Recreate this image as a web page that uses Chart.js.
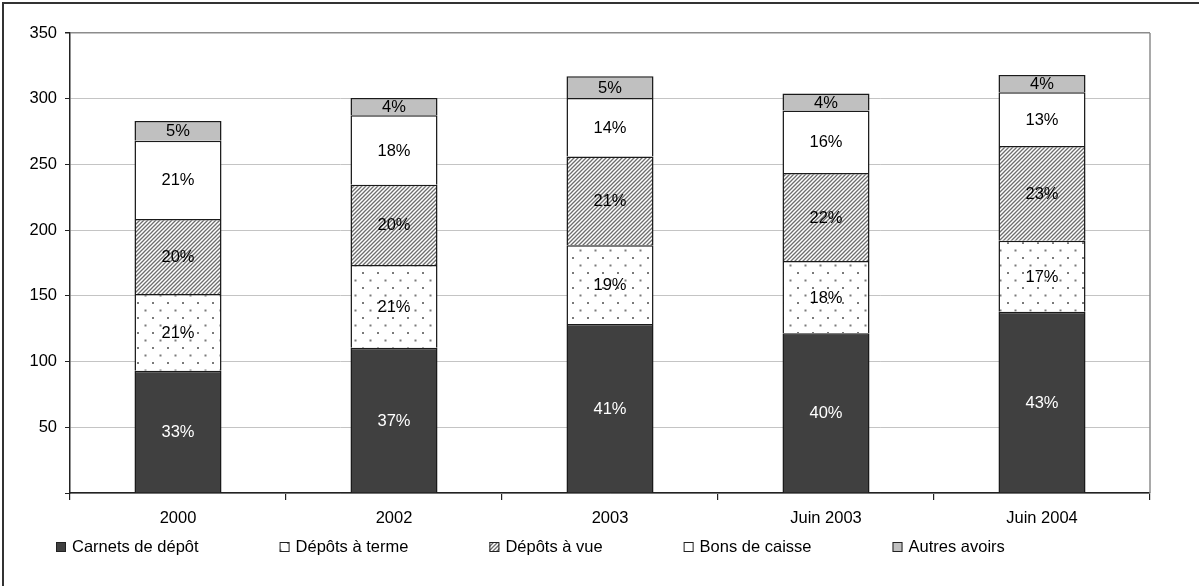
<!DOCTYPE html>
<html>
<head>
<meta charset="utf-8">
<style>
  html, body { margin: 0; padding: 0; background: #fff; }
  #wrap { width: 1199px; height: 586px; position: relative; }
</style>
<script src="https://cdn.jsdelivr.net/npm/chart.js@4.4.0/dist/chart.umd.min.js"></script>
</head>
<body>
<div id="wrap"><canvas id="c" width="1199" height="586"></canvas></div>
<script>
// Encours par type de placement (stacked)
const categories   = ['2000', '2002', '2003', 'Juin 2003', 'Juin 2004'];
const carnetsDepot = [93, 110.5, 128.5, 121.5, 138];
const depotsTerme  = [58.5, 63, 60, 55, 54];
const depotsVue    = [57, 61, 67.5, 67, 72];
const bonsCaisse   = [59.5, 53, 44.5, 47.5, 41];
const autresAvoirs = [15, 13, 16.5, 13, 13];
const yTickValues  = [0, 50, 100, 150, 200, 250, 300, 350];

const FONT = '"Liberation Sans", Arial, sans-serif';
const FONT_SIZE = 16.5;

// Fill patterns
function dotPattern() {
  const c = document.createElement('canvas');
  c.width = 15; c.height = 15;
  const g = c.getContext('2d');
  g.fillStyle = '#fff'; g.fillRect(0, 0, 15, 15);
  g.fillStyle = '#7a7a7a';
  g.fillRect(2, 2, 2, 2);
  g.fillRect(9.5, 9.5, 2, 2);
  return g.createPattern(c, 'repeat');
}
function hatchPattern() {
  const s = 4;
  const c = document.createElement('canvas');
  c.width = s; c.height = s;
  const g = c.getContext('2d');
  g.fillStyle = '#fff'; g.fillRect(0, 0, s, s);
  g.strokeStyle = '#6e6e6e';
  g.lineWidth = 1.3;
  g.beginPath();
  g.moveTo(-1, s + 1); g.lineTo(s + 1, -1);
  g.moveTo(-1, 1); g.lineTo(1, -1);
  g.moveTo(s - 1, s + 1); g.lineTo(s + 1, s - 1);
  g.stroke();
  return g.createPattern(c, 'repeat');
}

const series = [
  { label: 'Carnets de dépôt', data: carnetsDepot, fill: '#404040', text: '#fff' },
  { label: 'Dépôts à terme',   data: depotsTerme,  fill: dotPattern(), text: '#000' },
  { label: 'Dépôts à vue',     data: depotsVue,    fill: hatchPattern(), text: '#000' },
  { label: 'Bons de caisse',   data: bonsCaisse,   fill: '#ffffff', text: '#000' },
  { label: 'Autres avoirs',    data: autresAvoirs, fill: '#c0c0c0', text: '#000' }
];

// Percent labels inside each segment, share of the column total
const segmentLabels = {
  id: 'segmentLabels',
  afterDatasetsDraw(chart) {
    const ctx = chart.ctx;
    const totals = categories.map((_, i) => series.reduce((s, d) => s + d.data[i], 0));
    ctx.save();
    ctx.font = FONT_SIZE + 'px ' + FONT;
    ctx.textAlign = 'center';
    ctx.textBaseline = 'middle';
    chart.data.datasets.forEach((ds, di) => {
      const meta = chart.getDatasetMeta(di);
      meta.data.forEach((bar, i) => {
        const pct = Math.round(ds.data[i] / totals[i] * 100) + '%';
        ctx.fillStyle = series[di].text;
        ctx.fillText(pct, bar.x, (bar.y + bar.base) / 2 + 1);
      });
    });
    ctx.restore();
  }
};

// Plot frame (right edge), outer border and legend row
const frameAndLegend = {
  id: 'frameAndLegend',
  beforeDatasetsDraw(chart) {
    const { ctx, chartArea: a } = chart;
    ctx.save();
    ctx.strokeStyle = '#8c8c8c';
    ctx.lineWidth = 1.5;
    ctx.beginPath();
    ctx.moveTo(a.right, a.top);
    ctx.lineTo(a.right, a.bottom);
    ctx.stroke();
    ctx.restore();
  },
  afterDraw(chart) {
    const ctx = chart.ctx;
    ctx.save();
    ctx.strokeStyle = '#333';
    ctx.lineWidth = 2;
    ctx.strokeRect(3, 3, 1400, 800);

    ctx.font = FONT_SIZE + 'px ' + FONT;
    ctx.textBaseline = 'middle';
    ctx.textAlign = 'left';
    let x = 56;
    const yc = 547, box = 10, gap = 6, pad = 81;
    series.forEach(s => {
      ctx.fillStyle = s.fill;
      ctx.fillRect(x, yc - box / 2, box, box);
      ctx.strokeStyle = '#222';
      ctx.lineWidth = 1;
      ctx.strokeRect(x + 0.5, yc - box / 2 + 0.5, box - 1, box - 1);
      ctx.fillStyle = '#000';
      ctx.fillText(s.label, x + box + gap, yc);
      x += box + gap + ctx.measureText(s.label).width + pad;
    });
    ctx.restore();
  }
};

new Chart(document.getElementById('c'), {
  type: 'bar',
  data: {
    labels: categories,
    datasets: series.map(s => ({
      label: s.label,
      data: s.data,
      backgroundColor: s.fill,
      borderColor: '#1a1a1a',
      borderWidth: 1.5,
      barPercentage: 0.403,
      categoryPercentage: 1
    }))
  },
  options: {
    responsive: false,
    animation: false,
    devicePixelRatio: 1,
    layout: { padding: { top: 33, right: 49, left: 0, bottom: 0 } },
    plugins: { legend: { display: false }, tooltip: { enabled: false } },
    scales: {
      x: {
        stacked: true,
        offset: true,
        grid: { offset: true, drawOnChartArea: false, tickLength: 7, tickColor: '#222', lineWidth: 1.2 },
        border: { color: '#222', width: 1.5 },
        ticks: { color: '#000', font: { family: FONT, size: FONT_SIZE }, padding: 9 },
        afterFit(s) { s.height = 93; }
      },
      y: {
        stacked: true,
        min: yTickValues[0],
        max: yTickValues[yTickValues.length - 1],
        afterBuildTicks(s) { s.ticks = yTickValues.map(v => ({ value: v })); },
        grid: {
          color: c => (c.tick && c.tick.value === 350) ? '#8c8c8c' : '#c4c4c4',
          lineWidth: c => (c.tick && c.tick.value === 350) ? 1.5 : 1,
          tickColor: '#222',
          tickLength: 5
        },
        border: { color: '#222', width: 1.5 },
        ticks: {
          color: '#000',
          font: { family: FONT, size: FONT_SIZE },
          padding: 8,
          callback: v => v === 0 ? '' : String(v)
        },
        afterFit(s) { s.width = 70; }
      }
    }
  },
  plugins: [segmentLabels, frameAndLegend]
});
</script>
</body>
</html>
